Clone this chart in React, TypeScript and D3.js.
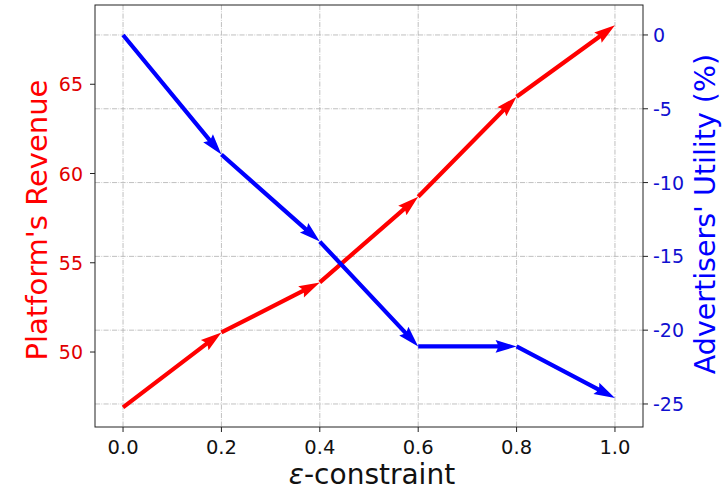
import React from 'react';
import * as d3 from 'd3';

// epsilon values on the x axis
const epsilons = [0.0, 0.2, 0.4, 0.6, 0.8, 1.0];
// platform revenue (left axis, red)
const revenue = [46.9, 51.1, 53.9, 58.7, 64.3, 68.3];
// advertisers' utility in % (right axis, blue)
const utility = [0, -8.1, -14.0, -21.1, -21.1, -24.6];

const xTicks = [0.0, 0.2, 0.4, 0.6, 0.8, 1.0];
const leftTicks = [50, 55, 60, 65];
const rightTicks = [0, -5, -10, -15, -20, -25];

const width = 726;
const height = 492;
const plot = { left: 95, right: 643, top: 5, bottom: 427 };
const font = 'DejaVu Sans, sans-serif';

// quiver-style arrow polygon (matplotlib defaults: headwidth 3, headlength 5, headaxislength 4.5)
function arrowPath(x0: number, y0: number, x1: number, y1: number, w: number) {
  const dx = x1 - x0;
  const dy = y1 - y0;
  const L = Math.hypot(dx, dy);
  const ux = dx / L, uy = dy / L;
  const px = -uy, py = ux;
  const hl = Math.min(5 * w, L);
  const ha = Math.min(4.5 * w, L);
  const hw = 3 * w / 2;
  const pt = (a: number, b: number) => [x0 + ux * a + px * b, y0 + uy * a + py * b];
  const pts = [
    pt(0, -w / 2),
    pt(L - ha, -w / 2),
    pt(L - hl, -hw),
    pt(L, 0),
    pt(L - hl, hw),
    pt(L - ha, w / 2),
    pt(0, w / 2),
  ];
  return 'M' + pts.map(p => p.map(v => v.toFixed(2)).join(',')).join('L') + 'Z';
}

export default function App() {
  const x = d3.scaleLinear().domain([-0.057, 1.057]).range([plot.left, plot.right]);
  const yL = d3.scaleLinear().domain([45.8, 69.44]).range([plot.bottom, plot.top]);
  const yR = d3.scaleLinear().domain([-26.56, 2.03]).range([plot.bottom, plot.top]);

  const gridStyle = {
    stroke: '#b0b0b0',
    strokeWidth: 0.8,
    strokeDasharray: '5.1,1.3,0.8,1.3',
  };

  const arrows = (vals: number[], y: d3.ScaleLinear<number, number>, color: string) =>
    vals.slice(0, -1).map((v, i) => (
      <path
        key={color + i}
        d={arrowPath(x(epsilons[i]), y(v), x(epsilons[i + 1]), y(vals[i + 1]), 4.2)}
        fill={color}
      />
    ));

  return (
    <div style={{ position: 'absolute', left: 0, top: 0 }}>
      <svg width={width} height={height} style={{ display: 'block', background: '#fff' }}>
        <rect x={0} y={0} width={width} height={height} fill="#fff" />

        {/* grid */}
        {xTicks.map(t => (
          <line key={'gx' + t} x1={x(t)} x2={x(t)} y1={plot.top} y2={plot.bottom} {...gridStyle} />
        ))}
        {rightTicks.map(t => (
          <line key={'gy' + t} x1={plot.left} x2={plot.right} y1={yR(t)} y2={yR(t)} {...gridStyle} />
        ))}

        {/* series */}
        {arrows(revenue, yL, '#ff0000')}
        {arrows(utility, yR, '#0000ff')}

        {/* frame */}
        <rect
          x={plot.left}
          y={plot.top}
          width={plot.right - plot.left}
          height={plot.bottom - plot.top}
          fill="none"
          stroke="#222"
          strokeWidth={1}
        />

        {/* x axis */}
        {xTicks.map(t => (
          <g key={'xt' + t}>
            <line x1={x(t)} x2={x(t)} y1={plot.bottom} y2={plot.bottom + 5} stroke="#222" />
            <text x={x(t)} y={454} textAnchor="middle" fontFamily={font} fontSize={19.5} fill="#111">
              {t.toFixed(1)}
            </text>
          </g>
        ))}
        <text x={(plot.left + plot.right) / 2 + 3} y={484} textAnchor="middle" fontFamily={font} fontSize={28} fill="#111">
          <tspan fontStyle="italic">ε</tspan>-constraint
        </text>

        {/* left axis */}
        {leftTicks.map(t => (
          <g key={'lt' + t}>
            <line x1={plot.left - 5} x2={plot.left} y1={yL(t)} y2={yL(t)} stroke="#222" />
            <text x={83} y={yL(t) + 7} textAnchor="end" fontFamily={font} fontSize={19} fill="#e00000">
              {t}
            </text>
          </g>
        ))}
        <text
          transform={`translate(47,220) rotate(-90)`}
          textAnchor="middle"
          fontFamily={font}
          fontSize={29}
          fill="#ff0000"
        >
          Platform's Revenue
        </text>

        {/* right axis */}
        {rightTicks.map(t => (
          <g key={'rt' + t}>
            <line x1={plot.right} x2={plot.right + 5} y1={yR(t)} y2={yR(t)} stroke="#222" />
            <text x={653} y={yR(t) + 7} textAnchor="start" fontFamily={font} fontSize={19} fill="#1010d0">
              {t}
            </text>
          </g>
        ))}
        <text
          transform={`translate(715,214) rotate(-90)`}
          textAnchor="middle"
          fontFamily={font}
          fontSize={28.5}
          fill="#0000ff"
        >
          Advertisers' Utility (%)
        </text>
      </svg>
    </div>
  );
}
